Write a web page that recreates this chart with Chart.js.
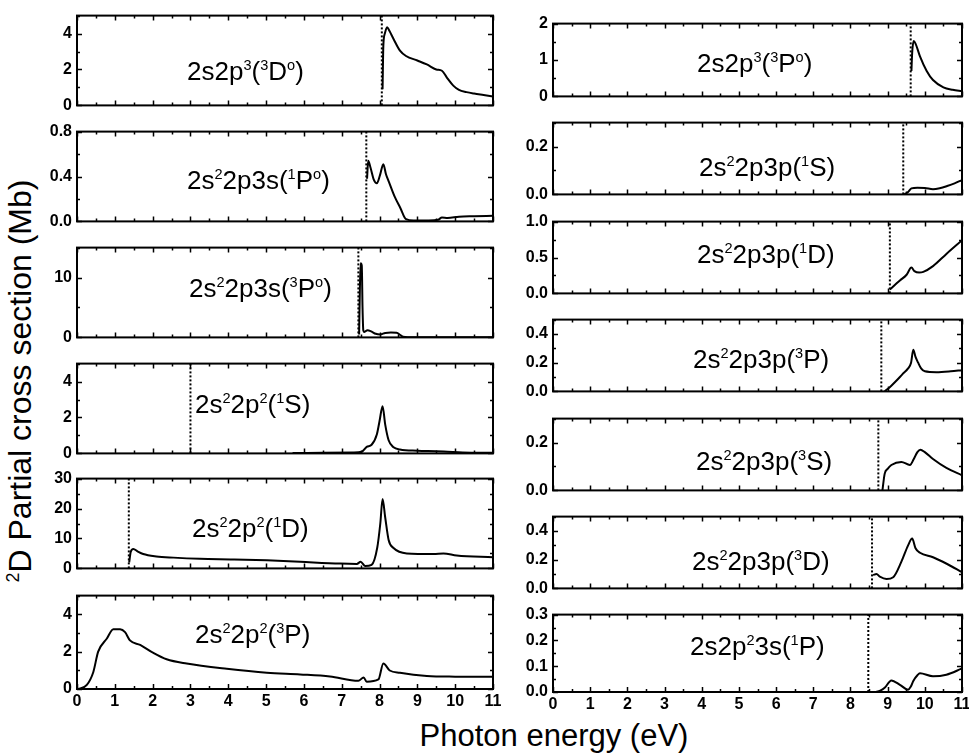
<!DOCTYPE html>
<html>
<head>
<meta charset="utf-8">
<script src="https://cdn.jsdelivr.net/npm/chart.js@4/dist/chart.umd.min.js"></script>
<style>
  body { margin: 0; width: 969px; height: 756px; position: relative; overflow: hidden; background: #fff;
         font-family: "Liberation Sans", Arial, sans-serif; color: #000; }
  canvas { position: absolute; }
  .lbl { position: absolute; font-size: 26px; line-height: 26px; white-space: nowrap; }
  sup { font-size: 0.56em; position: relative; top: -0.68em; vertical-align: baseline; }
  #ytitle { position: absolute; left: 22px; top: 381px; font-size: 32px; line-height: 32px; white-space: nowrap;
            transform: translate(-50%, -50%) rotate(-90deg); }
  #xtitle { position: absolute; left: 554px; top: 720px; font-size: 31px; line-height: 31px; white-space: nowrap;
            transform: translateX(-50%); }
</style>
</head>
<body>
<div id="ytitle"><sup>2</sup>D Partial cross section (Mb)</div>
<div id="xtitle">Photon energy (eV)</div>
<script>
// photon energy (eV) / partial cross section (Mb)
// left column
const e3Do = [8.08, 8.1, 8.14, 8.2, 8.26, 8.37, 8.54, 8.7, 9.0, 9.25, 9.5, 9.65, 9.78, 9.95, 10.1, 10.3, 10.5, 10.75, 11];
const s3Do = [0.9, 3.3, 4.0, 4.35, 4.15, 3.7, 3.05, 2.75, 2.5, 2.28, 2.0, 1.93, 1.55, 1.1, 0.86, 0.74, 0.66, 0.58, 0.5];

const e1Po = [7.67, 7.7, 7.76, 7.85, 7.93, 8.01, 8.1, 8.17, 8.25, 8.4, 8.55, 8.7, 8.9, 9.3, 9.55, 9.65, 9.8, 10.1, 10.5, 11];
const s1Po = [0.38, 0.54, 0.48, 0.37, 0.34, 0.41, 0.51, 0.42, 0.35, 0.22, 0.12, 0.02, 0.008, 0.008, 0.015, 0.035, 0.03, 0.042, 0.046, 0.05];

const e3Po = [7.46, 7.48, 7.5, 7.53, 7.55, 7.57, 7.6, 7.68, 7.78, 7.9, 8.02, 8.15, 8.3, 8.45, 8.55, 8.62, 8.75, 11];
const s3Po = [0.5, 8, 12.4, 12, 5, 1.2, 0.9, 1.2, 1.0, 0.6, 0.5, 0.75, 0.8, 0.76, 0.4, 0.1, 0.02, 0.02];

const e1S = [5.7, 6.5, 7.3, 7.53, 7.66, 7.79, 7.93, 8.0, 8.08, 8.15, 8.24, 8.37, 8.54, 9.0, 9.5, 9.8, 10.2, 11];
const s1S = [0.02, 0.03, 0.05, 0.09, 0.36, 0.48, 1.07, 1.8, 2.63, 1.6, 0.73, 0.34, 0.22, 0.15, 0.12, 0.09, 0.05, 0.03];

const e1D = [1.38, 1.42, 1.49, 1.6, 1.75, 2.1, 2.55, 3.25, 4.13, 5.02, 5.9, 6.96, 7.4, 7.5, 7.62, 7.79, 7.94, 8.02, 8.08, 8.15, 8.24, 8.37, 8.72, 9.43, 9.69, 10.04, 11];
const s1D = [2.0, 5.5, 6.5, 5.7, 4.8, 4.0, 3.6, 3.2, 3.0, 2.7, 2.2, 1.6, 1.5, 2.2, 0.8, 1.2, 7.0, 15, 23.2, 17, 9.5, 6.8, 5.0, 4.8, 5.0, 4.3, 3.7];

const e3P = [0.03, 0.26, 0.43, 0.56, 0.79, 0.96, 1.14, 1.27, 1.4, 1.67, 2.02, 2.37, 2.9, 3.96, 5.02, 5.9, 6.69, 7.44, 7.58, 7.66, 7.97, 8.1, 8.27, 8.54, 9.25, 10.0, 11];
const s3P = [0, 0.22, 0.9, 2.0, 2.7, 3.2, 3.2, 3.04, 2.6, 2.36, 1.93, 1.59, 1.36, 1.08, 0.87, 0.78, 0.67, 0.44, 0.62, 0.39, 0.51, 1.37, 0.99, 0.87, 0.7, 0.66, 0.65];

// right column
const e3PoR = [9.64, 9.66, 9.7, 9.75, 9.87, 10.05, 10.22, 10.5, 10.75, 11];
const s3PoR = [0.7, 1.2, 1.52, 1.45, 1.1, 0.7, 0.45, 0.25, 0.18, 0.14];

const ep1S = [9.45, 9.55, 9.64, 9.8, 10.0, 10.22, 10.4, 10.6, 10.8, 11];
const sp1S = [0.0, 0.01, 0.025, 0.028, 0.027, 0.022, 0.026, 0.035, 0.046, 0.06];

const ep1D = [9.06, 9.2, 9.33, 9.51, 9.64, 9.72, 9.85, 9.96, 10.22, 10.58, 11];
const sp1D = [0.055, 0.12, 0.18, 0.26, 0.36, 0.31, 0.29, 0.3, 0.38, 0.55, 0.74];

const ep3P = [8.92, 9.1, 9.24, 9.4, 9.55, 9.63, 9.69, 9.75, 9.82, 9.9, 10.0, 10.31, 10.7, 11];
const sp3P = [0.0, 0.04, 0.076, 0.12, 0.16, 0.2, 0.29, 0.24, 0.2, 0.16, 0.14, 0.134, 0.14, 0.148];

const ep3S = [8.86, 8.92, 9.0, 9.1, 9.37, 9.6, 9.7, 9.8, 9.88, 10.0, 10.22, 10.58, 11];
const sp3S = [0.0, 0.069, 0.09, 0.106, 0.119, 0.106, 0.13, 0.16, 0.17, 0.16, 0.131, 0.094, 0.063];

const ep3D = [8.61, 8.7, 8.79, 8.97, 9.15, 9.37, 9.55, 9.66, 9.75, 9.87, 10.22, 10.6, 11];
const sp3D = [0.093, 0.1, 0.082, 0.066, 0.078, 0.186, 0.3, 0.347, 0.28, 0.248, 0.217, 0.17, 0.113];

const e3s1P = [8.66, 8.8, 8.92, 9.1, 9.33, 9.55, 9.62, 9.69, 9.8, 9.87, 10.22, 10.58, 11];
const s3s1P = [0.0, 0.005, 0.016, 0.045, 0.028, 0.009, 0.02, 0.043, 0.065, 0.073, 0.061, 0.067, 0.091];

const energies = [e3Do, e1Po, e3Po, e1S, e1D, e3P, e3PoR, ep1S, ep1D, ep3P, ep3S, ep3D, e3s1P];
const sections = [s3Do, s1Po, s3Po, s1S, s1D, s3P, s3PoR, sp1S, sp1D, sp3P, sp3S, sp3D, s3s1P];

// ionization thresholds (dotted lines), eV
const thresholds = [8.06, 7.65, 7.44, 3.0, 1.37, null, 9.62, 9.42, 9.06, 8.83, 8.75, 8.58, 8.48];

// y axes
const yMax = [5, 0.8, 15, 5, 30, 5, 2, 0.3, 1.0, 0.5, 0.3, 0.5, 0.3];
const yMinor = [1, 0.2, 5, 1, 5, 1, 0.5, 0.1, 0.25, 0.1, 0.1, 0.1, 0.05];
const yMajor = [2, 0.4, 10, 2, 10, 2, 1, 0.2, 0.5, 0.2, 0.2, 0.2, 0.1];
const yDecimals = [0, 1, 0, 0, 0, 0, 0, 1, 1, 1, 1, 1, 1];

const stateLabels = [
  '2s2p<sup>3</sup>(<sup>3</sup>D<sup>o</sup>)',
  '2s<sup>2</sup>2p3s(<sup>1</sup>P<sup>o</sup>)',
  '2s<sup>2</sup>2p3s(<sup>3</sup>P<sup>o</sup>)',
  '2s<sup>2</sup>2p<sup>2</sup>(<sup>1</sup>S)',
  '2s<sup>2</sup>2p<sup>2</sup>(<sup>1</sup>D)',
  '2s<sup>2</sup>2p<sup>2</sup>(<sup>3</sup>P)',
  '2s2p<sup>3</sup>(<sup>3</sup>P<sup>o</sup>)',
  '2s<sup>2</sup>2p3p(<sup>1</sup>S)',
  '2s<sup>2</sup>2p3p(<sup>1</sup>D)',
  '2s<sup>2</sup>2p3p(<sup>3</sup>P)',
  '2s<sup>2</sup>2p3p(<sup>3</sup>S)',
  '2s<sup>2</sup>2p3p(<sup>3</sup>D)',
  '2s2p<sup>2</sup>3s(<sup>1</sup>P)',
];

// page layout: plot boxes [left, top, right, bottom] and label spots [left, top]
const boxes = [
  [77, 11, 493, 110], [77, 127, 493, 226], [77, 243, 493, 342],
  [77, 359, 493, 458], [77, 474, 493, 573], [77, 591, 493, 689],
  [553, 19, 962, 101], [553, 118, 962, 199], [553, 217, 962, 298], [553, 315, 962, 396],
  [553, 414, 962, 495], [553, 512, 962, 593], [553, 610, 962, 692],
];
const labelPos = [
  [187, 58], [187, 167], [189, 275], [195, 391], [192, 515], [195, 621],
  [697, 50], [699, 154], [697, 241], [693, 346], [696, 448], [692, 548], [690, 633],
];

Chart.defaults.font.family = '"Liberation Sans", Arial, sans-serif';
Chart.defaults.color = '#000';

const isMultiple = (v, step) => Math.abs(v / step - Math.round(v / step)) < 1e-6;

// closed frame with inward ticks on all four sides (Origin style)
const frameTicks = {
  id: 'frameTicks',
  afterDatasetsDraw(chart, args, opts) {
    const { ctx, chartArea: a, scales: { x, y } } = chart;
    ctx.save();
    ctx.strokeStyle = '#000';
    ctx.lineWidth = 1.5;
    ctx.beginPath();
    x.ticks.forEach((t) => {
      const px = Math.round(x.getPixelForValue(t.value)) + 0.5;
      const len = isMultiple(t.value, 1) ? 5 : 3;
      ctx.moveTo(px, a.bottom); ctx.lineTo(px, a.bottom - len);
      ctx.moveTo(px, a.top); ctx.lineTo(px, a.top + len);
    });
    y.ticks.forEach((t) => {
      const py = Math.round(y.getPixelForValue(t.value)) + 0.5;
      const len = isMultiple(t.value, opts.major) ? 5 : 3;
      ctx.moveTo(a.left, py); ctx.lineTo(a.left + len, py);
      ctx.moveTo(a.right, py); ctx.lineTo(a.right - len, py);
    });
    ctx.stroke();
    ctx.lineWidth = 2;
    ctx.strokeRect(a.left, a.top, a.right - a.left, a.bottom - a.top);
    ctx.restore();
  },
};

boxes.forEach((b, i) => {
  const bottomRow = i === 5 || i === 12;
  const axisW = 60, padT = 10, padR = 12;
  const padB = bottomRow ? 0 : 10;
  const xH = bottomRow ? 34 : 0;

  const canvas = document.createElement('canvas');
  canvas.width = axisW + (b[2] - b[0]) + padR;
  canvas.height = padT + (b[3] - b[1]) + padB + xH;
  canvas.style.left = (b[0] - axisW) + 'px';
  canvas.style.top = (b[1] - padT) + 'px';
  document.body.appendChild(canvas);

  const lbl = document.createElement('div');
  lbl.className = 'lbl';
  lbl.innerHTML = stateLabels[i];
  lbl.style.left = labelPos[i][0] + 'px';
  lbl.style.top = labelPos[i][1] + 'px';
  document.body.appendChild(lbl);

  const datasets = [{
    data: energies[i].map((x, k) => ({ x, y: sections[i][k] })),
    borderColor: '#000',
    borderWidth: 2,
    pointRadius: 0,
    cubicInterpolationMode: 'monotone',
  }];
  if (thresholds[i] !== null) {
    datasets.push({
      data: [{ x: thresholds[i], y: 0 }, { x: thresholds[i], y: yMax[i] }],
      borderColor: '#000',
      borderWidth: 2,
      borderDash: [2, 2],
      pointRadius: 0,
    });
  }

  new Chart(canvas, {
    type: 'line',
    data: { datasets },
    options: {
      responsive: false,
      animation: false,
      layout: { padding: { left: 0, top: padT, right: padR, bottom: padB } },
      plugins: { legend: { display: false }, tooltip: { enabled: false }, frameTicks: { major: yMajor[i] } },
      scales: {
        x: {
          type: 'linear', min: 0, max: 11,
          grid: { display: false, drawTicks: false },
          border: { display: false },
          ticks: {
            stepSize: 0.5, display: bottomRow, autoSkip: false, maxRotation: 0, padding: 3,
            font: { size: 16, weight: 'bold' },
            callback: (v) => (isMultiple(v, 1) ? String(Math.round(v)) : ''),
          },
          afterFit: (s) => { s.height = xH; },
        },
        y: {
          type: 'linear', min: 0, max: yMax[i],
          grid: { display: false, drawTicks: false },
          border: { display: false },
          ticks: {
            stepSize: yMinor[i], autoSkip: false, padding: 5,
            font: { size: 16, weight: 'bold' },
            callback: (v) => (isMultiple(v, yMajor[i]) ? v.toFixed(yDecimals[i]) : ''),
          },
          afterFit: (s) => { s.width = axisW; },
        },
      },
    },
    plugins: [frameTicks],
  });
});
</script>
</body>
</html>
